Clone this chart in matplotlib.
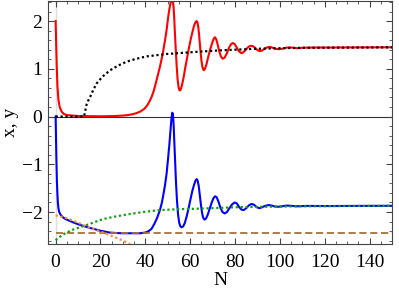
#!/usr/bin/env python3

from matplotlib import pyplot as plt
from matplotlib.ticker import MultipleLocator

plt.rcParams['font.family'] = ['Liberation Serif', 'DejaVu Serif']

# x(N), solid red
x_n = [0, 0.25, 0.5, 0.8, 1.25, 1.8, 2.7, 3.8, 5, 10, 20, 26, 30, 32, 34, 36,
       38, 39.5, 40.8, 41.8, 42.8, 43.7, 45, 46.5, 47.7, 48.8, 49.6, 50.2, 50.8,
       51.3, 51.8, 52.2, 52.6, 52.9, 53.2, 53.6, 54, 54.4, 54.8, 55.2, 55.6,
       56.2, 57, 57.8, 58.7, 59.5, 60.3, 61, 61.7, 62.3, 62.8, 63.2, 63.6, 64,
       64.5, 65, 65.5, 66, 66.5, 67.2, 68, 69, 70, 70.6, 71.1, 71.6, 72.3, 73,
       73.7, 74.5, 75.3, 76.3, 77.3, 78.3, 79, 79.8, 80.7, 81.7, 82.7, 83.6,
       84.6, 85.8, 86.8, 87.7, 88.7, 89.8, 90.9, 92, 93.2, 94.5, 95.6, 96.8,
       98, 99.5, 101, 102.7, 104.3, 106, 108, 110, 115, 120, 150]
x_val = [2.0, 1.5, 1.04, 0.65, 0.35, 0.2, 0.1, 0.05, 0.03, 0.01, 0.005, 0.01,
         0.02, 0.03, 0.045, 0.07, 0.11, 0.16, 0.23, 0.31, 0.41, 0.53, 0.76,
         1.04, 1.3, 1.6, 1.85, 2.09, 2.27, 2.39, 2.45, 2.44, 2.3, 2.05, 1.75,
         1.38, 1.04, 0.78, 0.62, 0.55, 0.55, 0.63, 0.8, 1.02, 1.25, 1.45, 1.63,
         1.77, 1.9, 1.97, 2.0, 1.98, 1.88, 1.7, 1.42, 1.18, 1.03, 0.97, 0.99,
         1.08, 1.24, 1.42, 1.57, 1.64, 1.66, 1.62, 1.5, 1.36, 1.26, 1.21, 1.23,
         1.32, 1.44, 1.52, 1.54, 1.52, 1.45, 1.37, 1.33, 1.34, 1.39, 1.45, 1.48,
         1.48, 1.45, 1.4, 1.37, 1.38, 1.42, 1.45, 1.46, 1.44, 1.42, 1.41, 1.42,
         1.44, 1.45, 1.44, 1.43, 1.44, 1.445, 1.445, 1.45]

# y(N), solid blue
y_n = [0, 0.15, 0.3, 0.45, 0.6, 0.8, 1, 1.25, 1.6, 2.1, 2.8, 3.5, 4.5, 6, 8.5,
       10.9, 13, 15, 17.5, 19.8, 22, 24, 27, 30, 37.6, 40, 41.5, 42.8, 44,
       45.3, 46.5, 47.3, 48, 48.8, 49.5, 50.1, 50.7, 51.2, 51.6, 52, 52.3,
       52.6, 52.9, 53.3, 53.7, 54.1, 54.6, 55.1, 55.6, 56.2, 56.9, 57.6, 58.4,
       59.3, 60.2, 61, 61.8, 62.4, 62.9, 63.3, 63.8, 64.3, 64.8, 65.3, 65.8,
       66.4, 67, 67.8, 68.7, 69.6, 70.4, 71.1, 71.8, 72.6, 73.5, 74.4, 75.4,
       76.4, 77.5, 78.7, 79.8, 80.8, 81.9, 82.9, 83.9, 85, 86.2, 87.4, 88.5,
       89.7, 90.9, 92.1, 93.5, 95, 96.4, 97.8, 99.3, 101, 103, 105, 107.5,
       112, 120, 150]
y_val = [0.0, -0.4, -0.8, -1.12, -1.4, -1.62, -1.8, -1.92, -2.0, -2.05, -2.09,
         -2.12, -2.15, -2.18, -2.23, -2.27, -2.3, -2.33, -2.36, -2.39, -2.41,
         -2.43, -2.44, -2.445, -2.445, -2.43, -2.4, -2.35, -2.25, -2.12, -1.96,
         -1.82, -1.65, -1.43, -1.19, -0.9, -0.6, -0.3, -0.07, 0.08, 0.05,
         -0.15, -0.5, -0.95, -1.4, -1.75, -2.05, -2.22, -2.3, -2.32, -2.3,
         -2.23, -2.1, -1.92, -1.72, -1.55, -1.42, -1.34, -1.31, -1.34, -1.45,
         -1.65, -1.85, -2.02, -2.12, -2.16, -2.14, -2.06, -1.93, -1.8, -1.71,
         -1.67, -1.69, -1.78, -1.91, -2.0, -2.03, -2.0, -1.92, -1.84, -1.8,
         -1.82, -1.9, -1.95, -1.96, -1.92, -1.86, -1.83, -1.85, -1.9, -1.92,
         -1.9, -1.87, -1.855, -1.865, -1.885, -1.89, -1.88, -1.865, -1.87,
         -1.88, -1.872, -1.875, -1.87]

# black dotted
k_n = [0, 12.6, 12.9, 13.3, 13.8, 14.5, 15.4, 16.8, 18.4, 21, 24.3, 28, 31.7,
       36, 40.6, 49.5, 58.4, 64.4, 75, 90, 110, 130, 150]
k_val = [0, 0, 0.05, 0.14, 0.25, 0.33, 0.41, 0.56, 0.7, 0.84, 0.97, 1.07,
         1.15, 1.21, 1.26, 1.31, 1.34, 1.36, 1.39, 1.42, 1.44, 1.445, 1.45]

# green dotted
g_n = [0, 3, 7, 14, 21, 26, 32, 39, 46.5, 55, 64, 80, 100, 125, 150]
g_val = [-2.59, -2.48, -2.38, -2.27, -2.15, -2.1, -2.05, -2.0, -1.96, -1.94,
         -1.93, -1.9, -1.885, -1.875, -1.87]

# orange dotted
o_n = [0, 5, 10, 15, 20, 25, 30, 35]
o_val = [-2.07, -2.13, -2.22, -2.33, -2.41, -2.5, -2.6, -2.72]

# brown dashed
b_n = [0, 150]
b_val = [-2.45, -2.45]


fig = plt.figure(figsize=(3.99, 2.91), dpi=100)
ax = fig.add_axes([48 / 399, 1 - 244 / 291, 344 / 399, 243 / 291])

ax.axvline(0, color='#dddddd', linewidth=1, zorder=0)
ax.axhline(0, color='#333333', linewidth=0.8, zorder=1)

ax.plot(x_n, x_val, color='#ff0000', linewidth=1.5, zorder=2)
ax.plot(y_n, y_val, color='#0000ff', linewidth=1.5, zorder=2)
ax.plot(b_n, b_val, color='#a8703a', linewidth=1.3, linestyle=(0, (4, 2)), zorder=3)
ax.plot(k_n, k_val, color='black', linewidth=1.6, linestyle=(0, (1, 1.2)), zorder=4)
ax.plot(g_n, g_val, color='#10a010', linewidth=1.6, linestyle=(0, (1, 1.2)), zorder=4)
ax.plot(o_n, o_val, color='#ff9020', linewidth=1.6, linestyle=(0, (1, 1.2)), zorder=4)

ax.set_xlim(-3.4, 150)
ax.set_ylim(-2.67, 2.42)

ax.xaxis.set_major_locator(MultipleLocator(20))
ax.xaxis.set_minor_locator(MultipleLocator(5))
ax.yaxis.set_major_locator(MultipleLocator(1))
ax.yaxis.set_minor_locator(MultipleLocator(0.2))

for s in ax.spines.values():
    s.set_color('#444444')
    s.set_linewidth(0.8)

ax.tick_params(which='both', direction='in', top=True, right=True,
               color='#444444', labelsize=14)
ax.tick_params(which='major', length=4, width=0.8)
ax.tick_params(which='minor', length=2.2, width=0.6)
ax.tick_params(axis='x', pad=7)
ax.tick_params(axis='y', pad=4)

ax.set_xlabel('N', fontsize=14, labelpad=1)
ax.set_ylabel('x, y', fontsize=14, labelpad=2)

plt.savefig('out.png', dpi=100)
